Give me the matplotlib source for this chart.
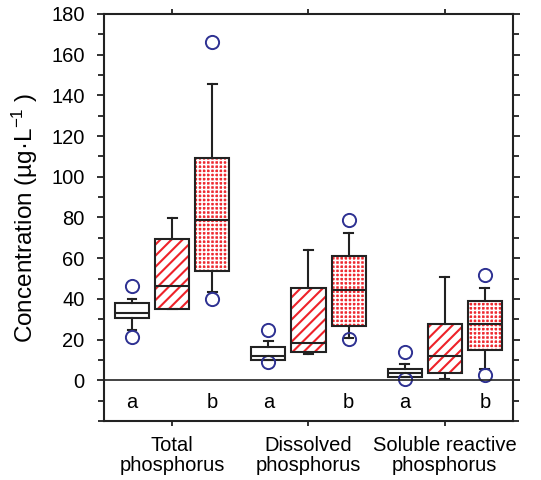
import matplotlib
matplotlib.use("Agg")
import matplotlib.pyplot as plt
from matplotlib.ticker import MultipleLocator
from matplotlib.colors import to_rgba

plt.rcParams['font.family'] = ['Liberation Sans', 'DejaVu Sans']
plt.rcParams['mathtext.fontset'] = 'custom'
plt.rcParams['mathtext.rm'] = 'Liberation Sans'
plt.rcParams['mathtext.it'] = 'Liberation Sans:italic'

categories = ["Total\nphosphorus", "Dissolved\nphosphorus", "Soluble reactive\nphosphorus"]

# per series (white, striped, dotted), per category: [whislo, q1, med, q3, whishi]
white_stats = [[24.9, 30.5, 33.1, 37.9, 39.8],
               [10.0, 10.0, 12.1, 16.6, 19.2],
               [1.8, 1.8, 3.6, 5.4, 8.2]]
white_fliers = [[46.2, 21.1], [24.9, 8.9], [13.8, 0.7]]

striped_stats = [[35.2, 35.2, 46.4, 69.4, 79.7],
                 [12.8, 13.8, 18.4, 45.3, 64.0],
                 [0.7, 3.4, 12.0, 27.5, 50.8]]
striped_fliers = [[], [], []]

dotted_stats = [[43.4, 53.8, 78.7, 109.3, 145.6],
                [21.0, 26.7, 44.4, 61.0, 72.3],
                [5.4, 14.8, 27.7, 38.9, 45.3]]
dotted_fliers = [[166.0, 39.8], [78.7, 20.2], [51.8, 2.6]]

letters = ["a", None, "b"]

series = [(white_stats, white_fliers), (striped_stats, striped_fliers), (dotted_stats, dotted_fliers)]
offsets = [-0.294, 0.0, 0.294]

fig = plt.figure(figsize=(5.41, 4.80), dpi=100)
ax = fig.add_axes([0.1922, 0.1229, 0.756, 0.848])

edge = '#222222'
red = '#ee2229'
flier_color = '#2e3192'
for si, (stats, fliers) in enumerate(series):
    bstats = []
    for ci in range(3):
        wl, q1, med, q3, wh = stats[ci]
        bstats.append(dict(whislo=wl, q1=q1, med=med, q3=q3, whishi=wh, fliers=fliers[ci]))
    pos = [ci + 1 + offsets[si] for ci in range(3)]
    res = ax.bxp(bstats, positions=pos, widths=0.25, capwidths=0.065, patch_artist=True,
                 manage_ticks=False,
                 boxprops=dict(edgecolor=edge, linewidth=1.5),
                 medianprops=dict(color=edge, linewidth=1.5),
                 whiskerprops=dict(color=edge, linewidth=1.5),
                 capprops=dict(color=edge, linewidth=1.5),
                 flierprops=dict(marker='o', markersize=9.5, markerfacecolor='none',
                                 markeredgecolor=flier_color, markeredgewidth=1.4, linestyle='none'))
    for b in res['boxes']:
        b.set_edgecolor(edge)
        if si == 0:
            b.set_facecolor('white')
        elif si == 1:
            b.set_facecolor('white')
            b.set_hatch('///')
            b.set_hatch_linewidth(1.5)
            b._hatch_color = to_rgba(red)
        else:
            b.set_facecolor('#ee2a30')
            b.set_hatch('++++')
            b.set_hatch_linewidth(1.15)
            b._hatch_color = (1, 1, 1, 1)

# letters
for ci in range(3):
    for si, lt in enumerate(letters):
        if lt:
            ax.text(ci + 1 + offsets[si], -10.7, lt, ha='center', va='center', fontsize=14.5)

ax.axhline(0, color=edge, linewidth=1.2)
ax.set_xlim(0.5, 3.5)
ax.set_ylim(-20, 180)
ax.set_xticks([1, 2, 3])
ax.set_xticklabels(categories, fontsize=14.5, linespacing=1.1)
ax.set_yticks(range(0, 181, 20))
ax.yaxis.set_minor_locator(MultipleLocator(10))
ax.tick_params(axis='y', which='major', direction='out', length=5, width=1.3, labelsize=14.5,
               pad=9, right=True, color=edge)
ax.tick_params(axis='y', which='minor', direction='out', length=4.5, width=1.3, right=True, color=edge)
ax.tick_params(axis='x', which='major', direction='out', length=3.5, width=1.3, top=True,
               pad=7, color=edge)
for s in ax.spines.values():
    s.set_linewidth(1.5)
    s.set_color(edge)

ax.set_ylabel("Concentration (µg·L$^{-1}$ )", fontsize=17.5)
ax.yaxis.set_label_coords((25 - 104) / 409, 0.5)
ax.yaxis.label.set_verticalalignment('center')

fig.savefig("out.png", dpi=100)
